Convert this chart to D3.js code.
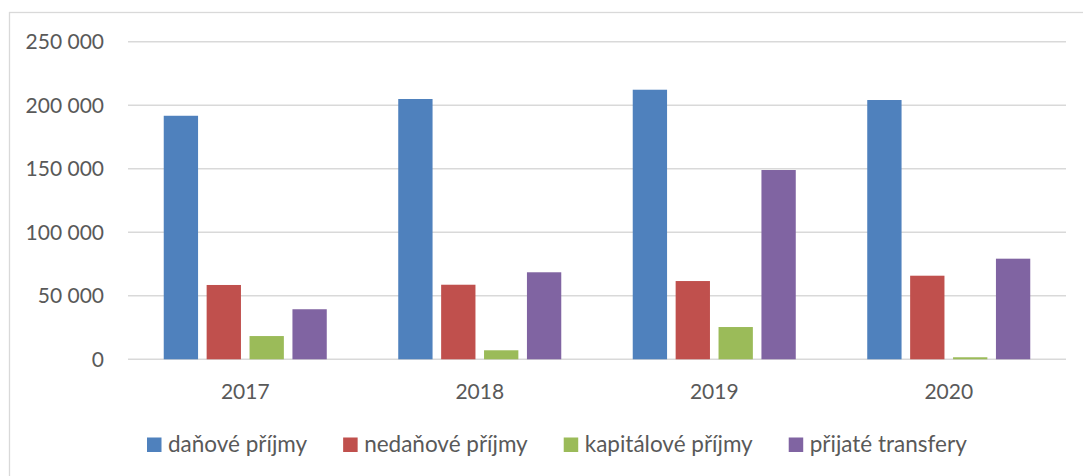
<!DOCTYPE html>
<html><head><meta charset="utf-8">
<script src="https://cdn.jsdelivr.net/npm/d3@7"></script>
<style>
html,body{margin:0;padding:0;background:#fff;}
svg{display:block;}
text{font-family:Lato,"Open Sans",sans-serif;fill:#595959;}
</style></head>
<body>
<svg id="c" width="1083" height="476"></svg>
<script>
const years = ["2017","2018","2019","2020"];
const seriesNames = ["daňové příjmy","nedaňové příjmy","kapitálové příjmy","přijaté transfery"];
const danove = [191700, 204900, 212200, 204100];
const nedanove = [58500, 58700, 61600, 65800];
const kapitalove = [18300, 7100, 25400, 1600];
const transfery = [39400, 68500, 149000, 79200];
const yTicks = [0, 50000, 100000, 150000, 200000, 250000];
const colors = ["#4f81bd","#c0504d","#9bbb59","#8064a2"];

(function(){
const seriesValues = [danove, nedanove, kapitalove, transfery];
const data = years.map((yr,i)=>({year:yr, values: seriesNames.map((s,j)=>({key:s, idx:j, value:seriesValues[j][i]}))}));

const svg = d3.select("#c");
svg.append("rect").attr("x",9.5).attr("y",12.5).attr("width",1100).attr("height",500)
  .attr("fill","none").attr("stroke","#d9d9d9").attr("stroke-width",1.3);

const pLeft=128, pRight=1066, pTop=41.7, pBottom=359.3;
const y = d3.scaleLinear().domain([0,250000]).range([pBottom, pTop]);
const x0 = d3.scaleBand().domain(years).range([pLeft,pRight]);
const groupW = 171.6;
const x1 = d3.scaleBand().domain(seriesNames).range([0,groupW]).paddingInner(0.2).paddingOuter(0.1);

svg.append("g").selectAll("line").data(yTicks).join("line")
  .attr("x1",pLeft).attr("x2",pRight)
  .attr("y1",d=>y(d)).attr("y2",d=>y(d))
  .attr("stroke","#d9d9d9").attr("stroke-width",1.5);

const fmt = d => d3.format(",")(d).replace(/,/g," ");
svg.append("g").selectAll("text").data(yTicks).join("text")
  .attr("x",104).attr("y",d=>y(d)).attr("dy","0.36em")
  .attr("text-anchor","end").style("font-size","21px")
  .text(fmt);

const g = svg.append("g").selectAll("g").data(data).join("g")
  .attr("transform",d=>`translate(${x0(d.year)+(x0.bandwidth()-groupW)/2},0)`);
g.selectAll("rect").data(d=>d.values).join("rect")
  .attr("x",d=>x1(d.key)).attr("width",x1.bandwidth())
  .attr("y",d=>y(d.value)).attr("height",d=>pBottom-y(d.value))
  .attr("fill",d=>colors[d.idx]);

svg.append("g").selectAll("text").data(years).join("text")
  .attr("x",d=>x0(d)+x0.bandwidth()/2).attr("y",398.5)
  .attr("text-anchor","middle").style("font-size","21px")
  .text(d=>d);

const lg = svg.append("g");
let lx = 147;
seriesNames.forEach((s,i)=>{
  lg.append("rect").attr("x",lx).attr("y",437.5).attr("width",14.5).attr("height",14.5).attr("fill",colors[i]);
  const t = lg.append("text").attr("x",lx+21).attr("y",451.5).style("font-size","22.5px").text(s);
  const w = t.node().getComputedTextLength();
  lx = lx + 21 + w + 36;
});
})();
</script>
</body></html>
